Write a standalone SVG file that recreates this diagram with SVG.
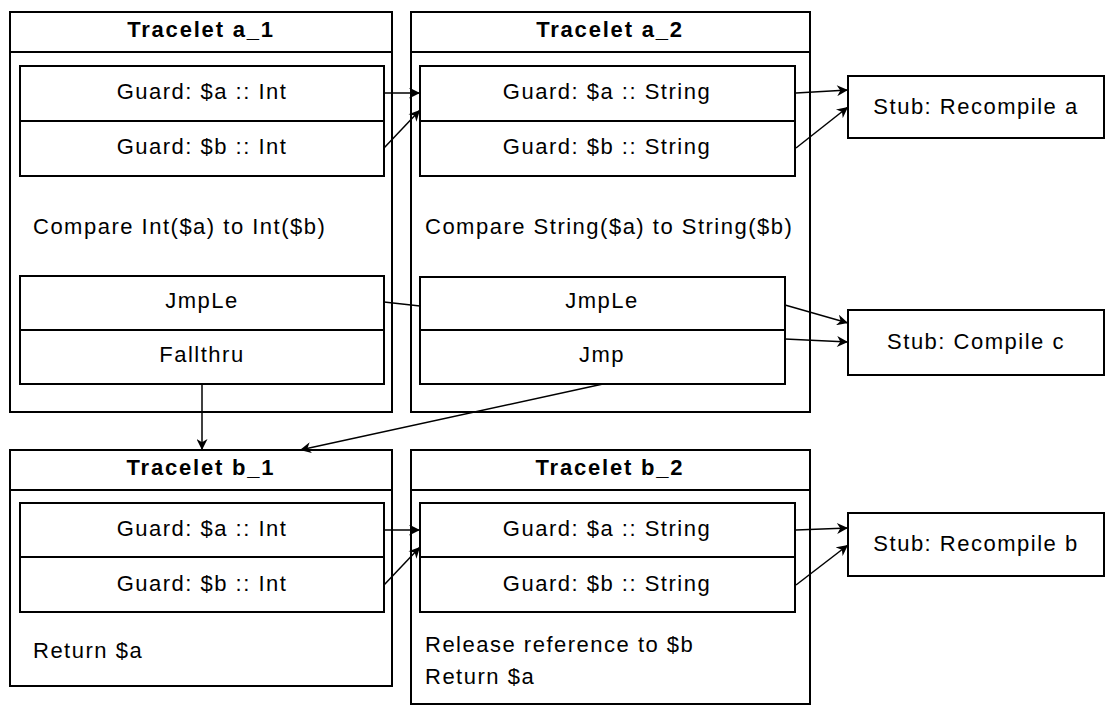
<svg xmlns="http://www.w3.org/2000/svg" width="1110" height="713" viewBox="0 0 1110 713">
<style>
rect{fill:#fff;stroke:#000;stroke-width:2}
.d{stroke:#000;stroke-width:2}
text{font-family:"Liberation Sans",Arial,sans-serif;font-size:22px;letter-spacing:1.5px;fill:#000}
.t{font-weight:bold;text-anchor:middle;letter-spacing:1.8px}
.c{text-anchor:middle}
.e path{fill:none;stroke:#000;stroke-width:1.5}
</style>
<defs><marker id="a" viewBox="0 0 10 10" refX="10" refY="5" markerWidth="13" markerHeight="11" orient="auto" markerUnits="userSpaceOnUse"><path d="M0,0L10,5L0,10L3,5z" fill="#000"/></marker></defs>
<g id="a1">
<rect x="10" y="12" width="382" height="400"/><line class="d" x1="10" y1="52" x2="392" y2="52"/>
<text class="t" x="201" y="37">Tracelet a_1</text>
<rect x="20" y="66" width="364" height="110"/><line class="d" x1="20" y1="121" x2="384" y2="121"/>
<text class="c" x="202" y="99">Guard: $a :: Int</text><text class="c" x="202" y="154">Guard: $b :: Int</text>
<text x="33" y="234">Compare Int($a) to Int($b)</text>
<rect x="20" y="276" width="364" height="108"/><line class="d" x1="20" y1="330" x2="384" y2="330"/>
<text class="c" x="202" y="308">JmpLe</text><text class="c" x="202" y="362">Fallthru</text>
</g>
<g id="a2">
<rect x="411" y="12" width="399" height="400"/><line class="d" x1="411" y1="52" x2="810" y2="52"/>
<text class="t" x="610" y="37">Tracelet a_2</text>
<rect x="420" y="66" width="375" height="110"/><line class="d" x1="420" y1="121" x2="795" y2="121"/>
<text class="c" x="607" y="99">Guard: $a :: String</text><text class="c" x="607" y="154">Guard: $b :: String</text>
<text x="425" y="234">Compare String($a) to String($b)</text>
<rect x="420" y="277" width="365" height="107"/><line class="d" x1="420" y1="330" x2="785" y2="330"/>
<text class="c" x="602" y="308">JmpLe</text><text class="c" x="602" y="362">Jmp</text>
</g>
<g id="sa"><rect x="848" y="76" width="256" height="62"/><text class="c" x="976" y="114">Stub: Recompile a</text></g>
<g id="sc"><rect x="848" y="310" width="256" height="65"/><text class="c" x="976" y="349">Stub: Compile c</text></g>
<g id="b1">
<rect x="10" y="450" width="382" height="236"/><line class="d" x1="10" y1="490" x2="392" y2="490"/>
<text class="t" x="201" y="475">Tracelet b_1</text>
<rect x="20" y="503" width="364" height="109"/><line class="d" x1="20" y1="557" x2="384" y2="557"/>
<text class="c" x="202" y="536">Guard: $a :: Int</text><text class="c" x="202" y="591">Guard: $b :: Int</text>
<text x="33" y="658">Return $a</text>
</g>
<g id="b2">
<rect x="411" y="450" width="399" height="254"/><line class="d" x1="411" y1="490" x2="810" y2="490"/>
<text class="t" x="610" y="475">Tracelet b_2</text>
<rect x="420" y="503" width="375" height="109"/><line class="d" x1="420" y1="557" x2="795" y2="557"/>
<text class="c" x="607" y="536">Guard: $a :: String</text><text class="c" x="607" y="591">Guard: $b :: String</text>
<text x="425" y="652">Release reference to $b</text><text x="425" y="684">Return $a</text>
</g>
<g id="sb"><rect x="848" y="513" width="256" height="63"/><text class="c" x="976" y="551">Stub: Recompile b</text></g>
<g class="e" id="edges">
<path d="M384,93L420,93" marker-end="url(#a)"/>
<path d="M384,148L420,110" marker-end="url(#a)"/>
<path d="M796,93L848,90" marker-end="url(#a)"/>
<path d="M796,148L848,107" marker-end="url(#a)"/>
<path d="M384,302L420,306"/>
<path d="M785,305L848,323" marker-end="url(#a)"/>
<path d="M785,339L848,342" marker-end="url(#a)"/>
<path d="M202,384L202,450" marker-end="url(#a)"/>
<path d="M603,384L300,450" marker-end="url(#a)"/>
<path d="M384,530L420,530" marker-end="url(#a)"/>
<path d="M384,585L420,547" marker-end="url(#a)"/>
<path d="M796,530L848,528" marker-end="url(#a)"/>
<path d="M796,585L848,545" marker-end="url(#a)"/>
</g>
</svg>
